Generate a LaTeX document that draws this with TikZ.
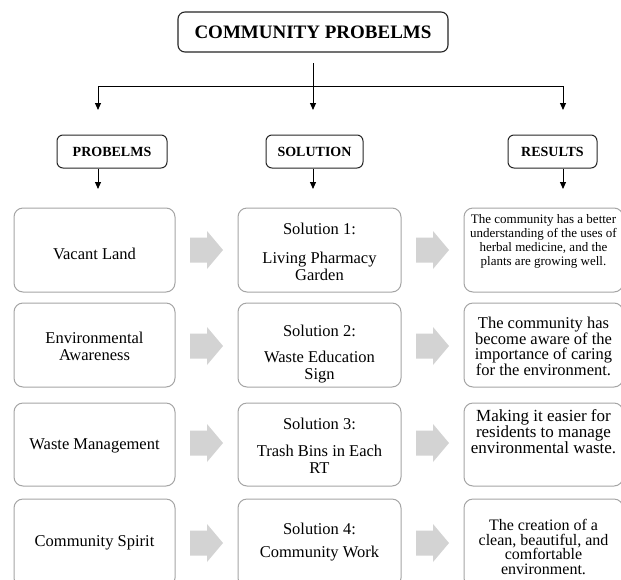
\documentclass[tikz,border=0pt]{standalone}
\usepackage{fontspec}
\setmainfont{Liberation Serif}
\usetikzlibrary{arrows.meta,calc}
\definecolor{boxgray}{RGB}{165,165,165}
\definecolor{arrowgray}{RGB}{211,211,211}
\begin{document}
\begin{tikzpicture}[x=1pt,y=-1pt,
  titlebox/.style={draw=black!85,line width=1.1pt,rounded corners=7pt,minimum width=270pt,minimum height=40pt,inner sep=0pt,font=\fontsize{19}{22}\selectfont\bfseries},
  hdrbox/.style={draw=black!85,line width=1pt,rounded corners=6pt,minimum height=33pt,inner sep=0pt,font=\fontsize{14}{16}\selectfont\bfseries},
  cellbox/.style={draw=boxgray,line width=1pt,rounded corners=9pt,minimum height=84pt,inner sep=0pt},
  celltext/.style={align=center,inner sep=0pt,font=\fontsize{16.5}{17}\selectfont},
  conn/.style={draw=black,line width=1pt},
  arr/.style={conn,-{Triangle[width=6pt,length=7pt]}},
  blockarrow/.pic={\fill[arrowgray] (0,-12.5) -- (17,-12.5) -- (17,-19) -- (33,0) -- (17,19) -- (17,12.5) -- (0,12.5) -- cycle;}
]
\useasboundingbox (0,0) rectangle (621,579);
\clip (0,0) rectangle (621,579);
\fill[white] (0,0) rectangle (621,579);

% title and connectors
\node[titlebox] (title) at (313,32) {COMMUNITY PROBELMS};
\coordinate (top) at (313,63);
\coordinate (split) at (313,86);
\coordinate (p1) at (98,110);
\coordinate (p2) at (313,110);
\coordinate (p3) at (563,110);
\draw[conn] (top) -- (split);
\draw[arr] (split) -| (p1);
\draw[arr] (split) -- (p2);
\draw[arr] (split) -| (p3);

% headers
\node[hdrbox,minimum width=110pt] (h1) at (112,151.5) {PROBELMS};
\node[hdrbox,minimum width=97pt] (h2) at (314.5,151.5) {SOLUTION};
\node[hdrbox,minimum width=89pt] (h3) at (552.5,151.5) {RESULTS};
\coordinate (q1) at (98,189);
\coordinate (q2) at (313,189);
\coordinate (q3) at (563,189);
\draw[arr] (h1.south -| q1) -- (q1);
\draw[arr] (h2.south -| q2) -- (q2);
\draw[arr] (h3.south -| q3) -- (q3);

% cell boxes
\node[cellbox,minimum width=161pt] (b11) at (94.5,250) {};
\node[cellbox,minimum width=163pt] (b12) at (319.5,250) {};
\node[cellbox,minimum width=159pt] (b13) at (543.5,250) {};
\node[cellbox,minimum width=161pt] (b21) at (94.5,345) {};
\node[cellbox,minimum width=163pt] (b22) at (319.5,345) {};
\node[cellbox,minimum width=159pt] (b23) at (543.5,345) {};
\node[cellbox,minimum width=161pt,minimum height=83pt] (b31) at (94.5,444.5) {};
\node[cellbox,minimum width=163pt,minimum height=83pt] (b32) at (319.5,444.5) {};
\node[cellbox,minimum width=159pt,minimum height=83pt] (b33) at (543.5,444.5) {};
\node[cellbox,minimum width=161pt,minimum height=88pt] (b41) at (94.5,543) {};
\node[cellbox,minimum width=163pt,minimum height=88pt] (b42) at (319.5,543) {};
\node[cellbox,minimum width=159pt,minimum height=88pt] (b43) at (543.5,543) {};

% block arrows
\pic (g11) at (190,250) {blockarrow};
\pic (g12) at (416,250) {blockarrow};
\pic (g21) at (190,346) {blockarrow};
\pic (g22) at (416,346) {blockarrow};
\pic (g31) at (190,443) {blockarrow};
\pic (g32) at (416,443) {blockarrow};
\pic (g41) at (190,543) {blockarrow};
\pic (g42) at (416,543) {blockarrow};

% texts
\node[celltext] (t11) at (94.5,254) {Vacant Land};
\node[celltext] (t12) at (319.5,252) {Solution 1:\\[12pt]Living Pharmacy\\Garden};
\node[celltext,font=\fontsize{13}{14}\selectfont] (t13) at (543.5,241.5) {The community has a better\\understanding of the uses of\\herbal medicine, and the\\plants are growing well.};
\node[celltext] (t21) at (94.5,346) {Environmental\\Awareness};
\node[celltext] (t22) at (319.5,354) {Solution 2:\\[9pt]Waste Education\\Sign};
\node[celltext,font=\fontsize{16.5}{15.5}\selectfont] (t23) at (543.5,346.5) {The community has\\become aware of the\\importance of caring\\for the environment.};
\node[celltext] (t31) at (94.5,446) {Waste Management};
\node[celltext] (t32) at (319.5,445.5) {Solution 3:\\[10pt]Trash Bins in Each\\RT};
\node[celltext,font=\fontsize{17}{16}\selectfont] (t33) at (543.5,432) {Making it easier for\\residents to manage\\environmental waste.};
\node[celltext] (t41) at (94.5,543) {Community Spirit};
\node[celltext] (t42) at (319.5,542.5) {Solution 4:\\[6pt]Community Work};
\node[celltext,font=\fontsize{16}{14.5}\selectfont] (t43) at (543.5,547) {The creation of a\\clean, beautiful, and\\comfortable\\environment.};
\end{tikzpicture}
\end{document}
